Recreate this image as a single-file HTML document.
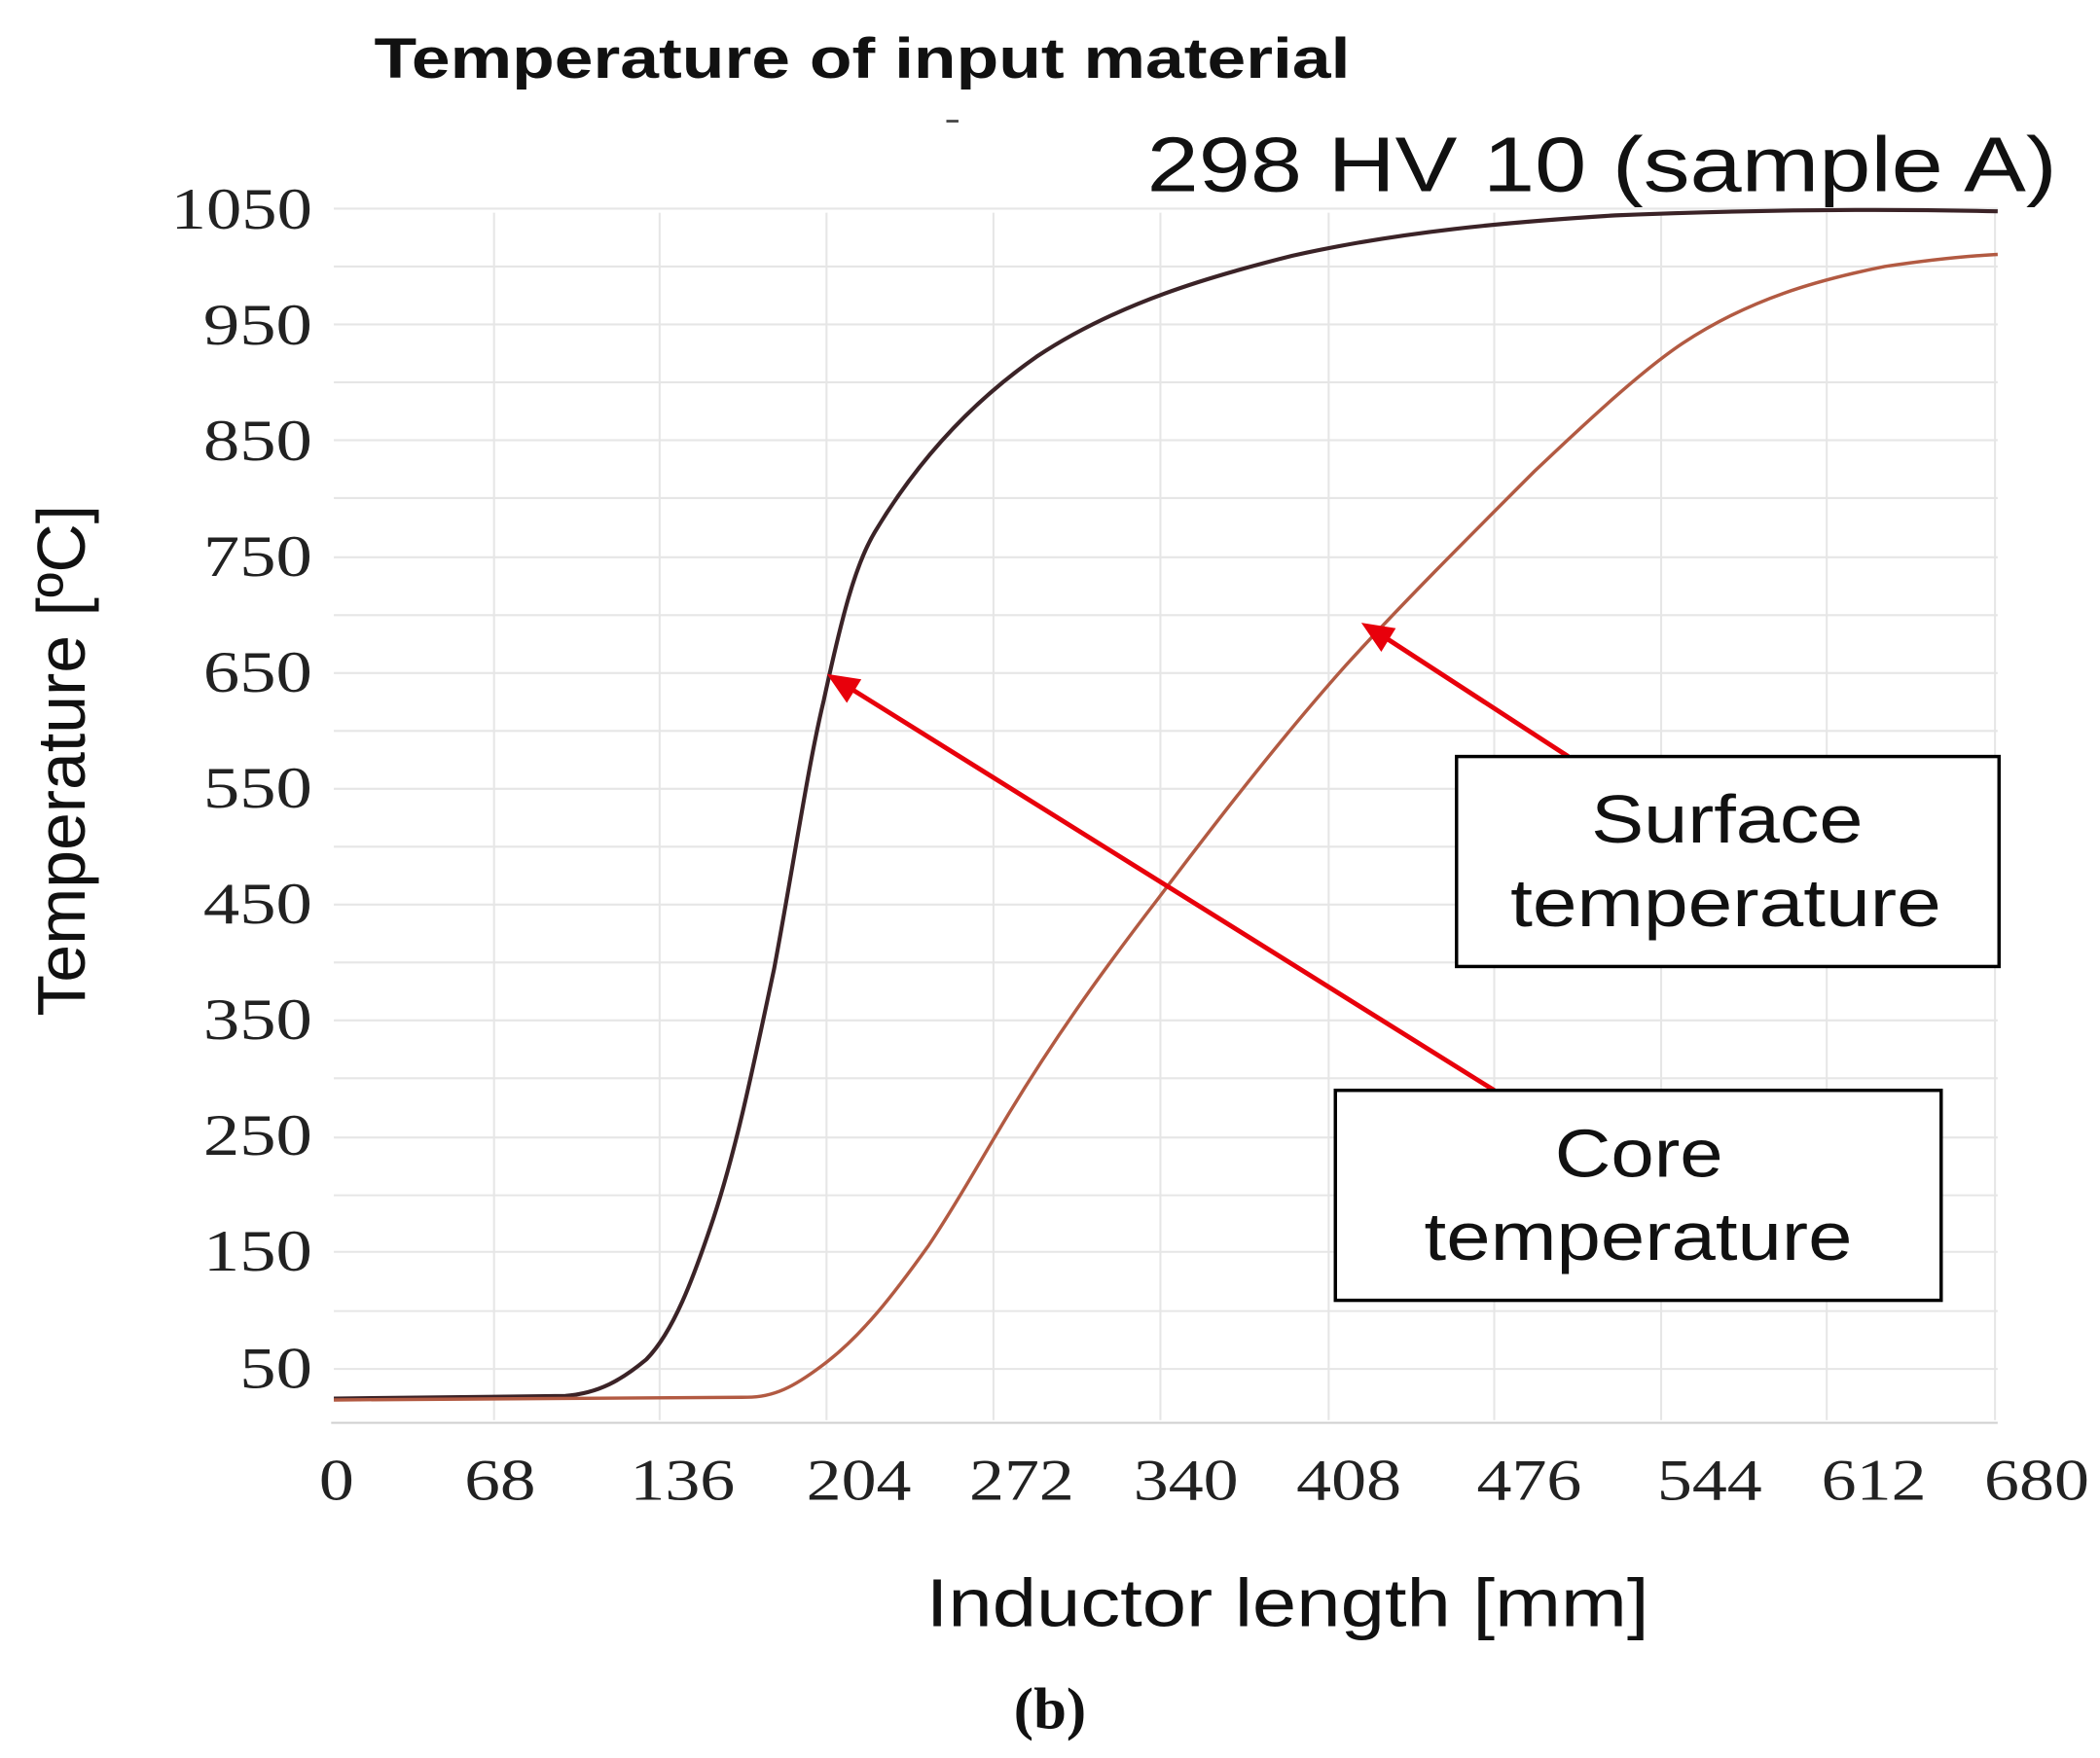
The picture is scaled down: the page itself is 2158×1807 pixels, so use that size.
<!DOCTYPE html>
<html><head><meta charset="utf-8"><style>
html,body{margin:0;padding:0;background:#fff;}
svg{display:block;}
</style></head><body>
<svg width="2158" height="1807" viewBox="0 0 1560 1306" preserveAspectRatio="none" xmlns="http://www.w3.org/2000/svg">
<rect width="1560" height="1306" fill="#fff"/>
<g stroke="#e6e6e6" stroke-width="1.5">
<line x1="248" y1="155" x2="1484" y2="155"/><line x1="248" y1="198" x2="1484" y2="198"/>
<line x1="248" y1="241" x2="1484" y2="241"/><line x1="248" y1="284" x2="1484" y2="284"/>
<line x1="248" y1="327" x2="1484" y2="327"/><line x1="248" y1="370" x2="1484" y2="370"/>
<line x1="248" y1="414" x2="1484" y2="414"/><line x1="248" y1="457" x2="1484" y2="457"/>
<line x1="248" y1="500" x2="1484" y2="500"/><line x1="248" y1="543" x2="1484" y2="543"/>
<line x1="248" y1="586" x2="1484" y2="586"/><line x1="248" y1="629" x2="1484" y2="629"/>
<line x1="248" y1="672" x2="1484" y2="672"/><line x1="248" y1="715" x2="1484" y2="715"/>
<line x1="248" y1="758" x2="1484" y2="758"/><line x1="248" y1="801" x2="1484" y2="801"/>
<line x1="248" y1="845" x2="1484" y2="845"/><line x1="248" y1="888" x2="1484" y2="888"/>
<line x1="248" y1="930" x2="1484" y2="930"/><line x1="248" y1="974" x2="1484" y2="974"/>
<line x1="248" y1="1017" x2="1484" y2="1017"/>
<line x1="367" y1="158" x2="367" y2="1055"/><line x1="490" y1="158" x2="490" y2="1055"/>
<line x1="614" y1="158" x2="614" y2="1055"/><line x1="738" y1="158" x2="738" y2="1055"/>
<line x1="862" y1="158" x2="862" y2="1055"/><line x1="987" y1="158" x2="987" y2="1055"/>
<line x1="1110" y1="158" x2="1110" y2="1055"/><line x1="1234" y1="158" x2="1234" y2="1055"/>
<line x1="1357" y1="158" x2="1357" y2="1055"/><line x1="1482" y1="158" x2="1482" y2="1055"/>
</g>
<line x1="246" y1="1057" x2="1484" y2="1057" stroke="#cfcfcf" stroke-width="1.5"/>
<g font-family="Liberation Serif, serif" font-size="44" fill="#222" lengthAdjust="spacingAndGlyphs">
<text x="127" y="170" textLength="105" lengthAdjust="spacingAndGlyphs">1050</text>
<text x="151" y="256" textLength="81" lengthAdjust="spacingAndGlyphs">950</text>
<text x="151" y="342" textLength="81" lengthAdjust="spacingAndGlyphs">850</text>
<text x="151" y="428" textLength="81" lengthAdjust="spacingAndGlyphs">750</text>
<text x="151" y="514" textLength="81" lengthAdjust="spacingAndGlyphs">650</text>
<text x="151" y="600" textLength="81" lengthAdjust="spacingAndGlyphs">550</text>
<text x="151" y="686" textLength="81" lengthAdjust="spacingAndGlyphs">450</text>
<text x="151" y="772" textLength="81" lengthAdjust="spacingAndGlyphs">350</text>
<text x="151" y="858" textLength="81" lengthAdjust="spacingAndGlyphs">250</text>
<text x="151" y="944" textLength="81" lengthAdjust="spacingAndGlyphs">150</text>
<text x="178" y="1031" textLength="54" lengthAdjust="spacingAndGlyphs">50</text>
</g>
<g font-family="Liberation Serif, serif" font-size="44" fill="#222">
<text x="237" y="1114" textLength="26" lengthAdjust="spacingAndGlyphs">0</text>
<text x="345" y="1114" textLength="53" lengthAdjust="spacingAndGlyphs">68</text>
<text x="468" y="1114" textLength="78" lengthAdjust="spacingAndGlyphs">136</text>
<text x="599" y="1114" textLength="78" lengthAdjust="spacingAndGlyphs">204</text>
<text x="720" y="1114" textLength="78" lengthAdjust="spacingAndGlyphs">272</text>
<text x="842" y="1114" textLength="78" lengthAdjust="spacingAndGlyphs">340</text>
<text x="963" y="1114" textLength="78" lengthAdjust="spacingAndGlyphs">408</text>
<text x="1097" y="1114" textLength="78" lengthAdjust="spacingAndGlyphs">476</text>
<text x="1231" y="1114" textLength="78" lengthAdjust="spacingAndGlyphs">544</text>
<text x="1353" y="1114" textLength="78" lengthAdjust="spacingAndGlyphs">612</text>
<text x="1474" y="1114" textLength="78" lengthAdjust="spacingAndGlyphs">680</text>
</g>
<path d="M248,1039 L420,1037 C445,1035 462,1025 480,1010 C500,990 515,950 530,905 C548,850 560,790 575,720 C590,640 600,570 612,520 C625,460 635,420 650,395 C680,345 720,300 770,265 C830,225 900,205 960,190 C1040,172 1120,165 1200,160 C1300,156 1400,155 1484,157" fill="none" stroke="#3b2327" stroke-width="3"/>
<path d="M248,1040 L555,1038 C575,1038 590,1030 610,1015 C640,993 665,960 690,925 C710,895 725,868 740,843 C780,775 820,720 860,668 C900,615 950,550 1000,494 C1040,450 1090,400 1140,350 C1180,312 1220,275 1250,255 C1300,222 1350,208 1400,198 C1440,192 1465,190 1484,189" fill="none" stroke="#b25a42" stroke-width="2.5"/>
<g stroke="#e8000b" stroke-width="3.5" fill="#e8000b">
<line x1="1165" y1="562" x2="1025" y2="471"/>
<polygon points="1015,465 1034,468 1026,481"/>
<line x1="1110" y1="810" x2="628" y2="509"/>
<polygon points="618,503 637,506 629,519"/>
</g>
<rect x="1082" y="562" width="403" height="156" fill="#fff" stroke="#000" stroke-width="2.5"/>
<rect x="992" y="810" width="450" height="156" fill="#fff" stroke="#000" stroke-width="2.5"/>
<g font-family="Liberation Sans, sans-serif" font-size="50" fill="#111">
<text x="1182" y="626" textLength="202" lengthAdjust="spacingAndGlyphs">Surface</text>
<text x="1122" y="688" textLength="320" lengthAdjust="spacingAndGlyphs">temperature</text>
<text x="1155" y="874" textLength="125" lengthAdjust="spacingAndGlyphs">Core</text>
<text x="1058" y="936" textLength="318" lengthAdjust="spacingAndGlyphs">temperature</text>
<text x="688" y="1208" textLength="537" lengthAdjust="spacingAndGlyphs">Inductor length [mm]</text>
<text x="852" y="142" font-size="58" textLength="676" lengthAdjust="spacingAndGlyphs">298 HV 10 (sample A)</text>
<text transform="translate(63,755) rotate(-90)" textLength="380" lengthAdjust="spacingAndGlyphs">Temperature [ºC]</text>
</g>
<text x="278" y="58" font-family="Liberation Sans, sans-serif" font-weight="bold" font-size="42" fill="#111" textLength="725" lengthAdjust="spacingAndGlyphs">Temperature of input material</text>
<line x1="703" y1="90" x2="712" y2="90" stroke="#444" stroke-width="2"/>
<text x="780" y="1284" font-family="Liberation Serif, serif" font-weight="bold" font-size="44" fill="#111" text-anchor="middle">(b)</text>
</svg>
</body></html>
